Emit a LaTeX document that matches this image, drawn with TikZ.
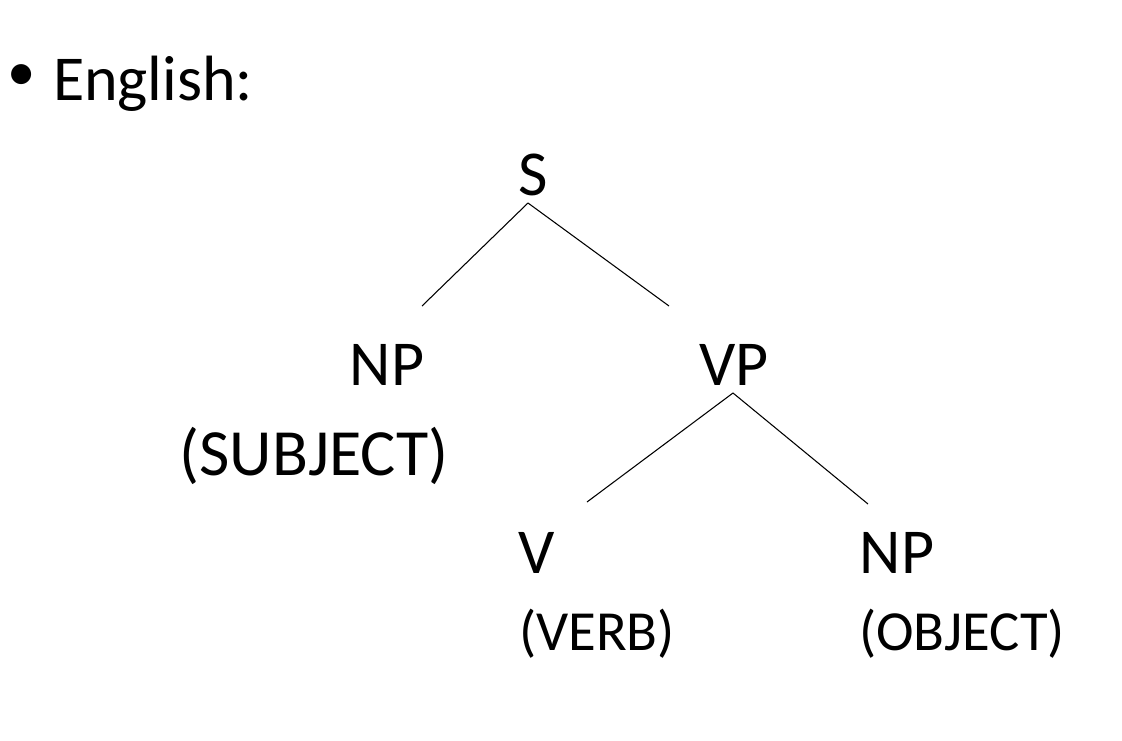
\documentclass[tikz,border=0pt]{standalone}
\usepackage{fontspec}
\setmainfont{Carlito}
\usepackage{tikz}

\begin{document}
\begin{tikzpicture}[
    x=0.75pt, y=-0.75pt,
    cat/.style={inner sep=0pt, outer sep=0pt, anchor=base, font=\fontsize{48}{57}\selectfont},
    role/.style={inner sep=0pt, outer sep=0pt, anchor=base, font=\fontsize{42.5}{51}\selectfont},
    edge/.style={line width=0.8pt}
  ]
    \useasboundingbox (0,0) rectangle (1122,740);

    \node[role, anchor=center] (bullet) at (22,78) {•};
    \node[cat, anchor=base west] (title) at (53,100) {English:};

    % categories
    \node[cat] (s) at (533,195) {S};
    \node[cat] (np) at (387,385) {NP};
    \node[cat] (vp) at (734,385) {VP};
    \node[cat, font=\fontsize{49.5}{59}\selectfont] (subj) at (314,475) {(SUBJECT)};
    \node[cat] (v) at (537,573) {V};
    \node[cat] (npobj) at (897,573) {NP};
    \node[role] (verb) at (597,650) {(VERB)};
    \node[role] (obj) at (962,650) {(OBJECT)};

    % branches
    \draw[edge] ([shift={(-5,8)}]s.base) -- ([shift={(35,-79)}]np.base);
    \draw[edge] ([shift={(-5,8)}]s.base) -- ([shift={(-65,-79)}]vp.base);
    \draw[edge] ([shift={(-1,8)}]vp.base) -- ([shift={(50,-71)}]v.base);
    \draw[edge] ([shift={(-1,8)}]vp.base) -- ([shift={(-29,-69)}]npobj.base);
\end{tikzpicture}
\end{document}
